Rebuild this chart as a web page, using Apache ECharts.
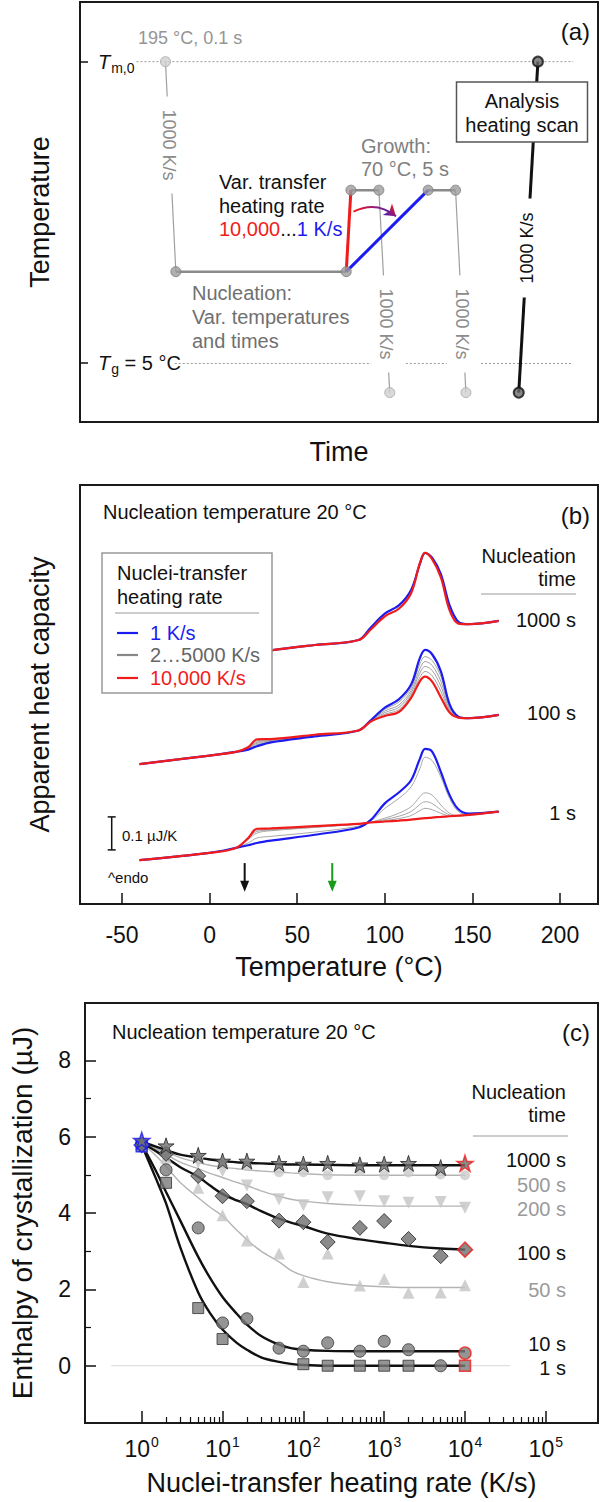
<!DOCTYPE html>
<html>
<head>
<meta charset="utf-8">
<title>Nuclei transfer experiment</title>
<script src="https://cdn.jsdelivr.net/npm/echarts@6/dist/echarts.min.js"></script>
<style>
  html, body { margin: 0; padding: 0; background: #fff; }
  #main { width: 602px; height: 1502px; }
</style>
</head>
<body>
<div id="main"></div>
<script>
// ---------- panel (a): schematic temperature program (arbitrary time / temperature units) ----------
var levelMelt = 85.8, levelGrowth = 55.2, levelNuc = 35.8, levelGlass = 14.0, levelLow = 7.0;
var meltCooling = [[16.5, levelMelt], [18.5, levelNuc]];
var nucleationHold = [[18.5, levelNuc], [51.4, levelNuc]];
var fastTransfer = [[51.4, levelNuc], [52.3, levelGrowth]];
var slowTransfer = [[51.4, levelNuc], [67.2, levelGrowth]];
var growthFast = [[52.3, levelGrowth], [57.7, levelGrowth]];
var growthSlow = [[67.2, levelGrowth], [72.5, levelGrowth]];
var quenchFast = [[57.7, levelGrowth], [59.8, levelLow]];
var quenchSlow = [[72.5, levelGrowth], [74.5, levelLow]];
var analysisScan = [[84.7, levelLow], [88.4, levelMelt]];
var meltRefLine = [[10.9, levelMelt], [95.2, levelMelt]];
var glassRefSegments = [[[18.3, levelGlass], [56.2, levelGlass]], [[62.9, levelGlass], [70.8, levelGlass]], [[77.4, levelGlass], [95.2, levelGlass]]];
var lightPoints = [[16.5, levelMelt], [59.8, levelLow], [74.5, levelLow]];
var grayPoints = [[18.5, levelNuc], [51.4, levelNuc], [52.3, levelGrowth], [57.7, levelGrowth], [67.2, levelGrowth], [72.5, levelGrowth]];
var darkPoints = [[84.7, levelLow], [88.4, levelMelt]];
var rateArrow = [[52.8, 50.1], [61.0, 49.0]];
var levelTicks = [levelMelt, levelGlass];

// ---------- panel (b): heating scans, °C vs apparent heat capacity (µJ/K, curves offset) ----------
var tempC = [-40, 0, 15, 22, 27, 35, 60, 85, 92, 100, 108, 115, 120, 123, 127, 132, 137, 142, 148, 165];
var cp1000Blue = [0.715, 0.74, 0.75, 0.755, 0.762, 0.769, 0.785, 0.80, 0.838, 0.88, 0.905, 0.952, 1.03, 1.064, 1.05, 1.0, 0.905, 0.855, 0.848, 0.858];
var cp1000Red = [0.715, 0.74, 0.75, 0.755, 0.762, 0.769, 0.785, 0.80, 0.832, 0.872, 0.895, 0.942, 1.033, 1.064, 1.045, 0.99, 0.89, 0.85, 0.848, 0.858];
var cp100Blue = [0.424, 0.45, 0.461, 0.468, 0.478, 0.49, 0.508, 0.526, 0.557, 0.595, 0.62, 0.665, 0.745, 0.77, 0.757, 0.705, 0.605, 0.568, 0.563, 0.573];
var cp100Gray = [
  [0.424, 0.45, 0.461, 0.47, 0.483, 0.492, 0.509, 0.526, 0.556, 0.59, 0.612, 0.655, 0.728, 0.75, 0.738, 0.69, 0.6, 0.567, 0.563, 0.573],
  [0.424, 0.45, 0.461, 0.471, 0.487, 0.494, 0.51, 0.526, 0.555, 0.585, 0.603, 0.647, 0.713, 0.735, 0.723, 0.675, 0.595, 0.566, 0.563, 0.573],
  [0.424, 0.45, 0.461, 0.472, 0.49, 0.496, 0.511, 0.526, 0.554, 0.58, 0.596, 0.64, 0.7, 0.72, 0.708, 0.66, 0.59, 0.565, 0.563, 0.573],
  [0.424, 0.45, 0.461, 0.473, 0.494, 0.498, 0.512, 0.526, 0.553, 0.575, 0.589, 0.633, 0.687, 0.705, 0.692, 0.645, 0.585, 0.565, 0.563, 0.573]
];
var cp100Red = [0.424, 0.45, 0.461, 0.475, 0.499, 0.5, 0.513, 0.526, 0.553, 0.57, 0.582, 0.625, 0.675, 0.689, 0.674, 0.626, 0.58, 0.565, 0.563, 0.573];
var cp1Blue = [0.133, 0.155, 0.17, 0.178, 0.185, 0.192, 0.21, 0.232, 0.255, 0.305, 0.338, 0.375, 0.44, 0.47, 0.462, 0.40, 0.33, 0.287, 0.274, 0.28];
var cp1Gray = [
  [0.133, 0.155, 0.17, 0.185, 0.2, 0.205, 0.218, 0.236, 0.252, 0.29, 0.32, 0.355, 0.41, 0.445, 0.435, 0.385, 0.32, 0.28, 0.27, 0.28],
  [0.133, 0.155, 0.17, 0.195, 0.215, 0.222, 0.232, 0.242, 0.248, 0.26, 0.275, 0.295, 0.325, 0.337, 0.33, 0.3, 0.275, 0.267, 0.27, 0.28],
  [0.133, 0.155, 0.17, 0.197, 0.22, 0.224, 0.233, 0.243, 0.248, 0.256, 0.266, 0.28, 0.302, 0.31, 0.305, 0.285, 0.27, 0.267, 0.27, 0.28],
  [0.133, 0.155, 0.17, 0.198, 0.224, 0.226, 0.235, 0.243, 0.247, 0.253, 0.259, 0.268, 0.283, 0.29, 0.286, 0.275, 0.267, 0.267, 0.27, 0.28]
];
var cp1Red = [0.133, 0.155, 0.17, 0.2, 0.228, 0.229, 0.236, 0.243, 0.247, 0.25, 0.253, 0.256, 0.259, 0.26, 0.262, 0.264, 0.266, 0.268, 0.27, 0.28];
var tempTicks = [-50, 0, 50, 100, 150, 200];
var scaleBar = [[-55.9, 0.164], [-55.9, 0.264]];
var arrowNucT = [[20, 0.124], [20, 0.054]];
var arrowGrowthT = [[70, 0.124], [70, 0.054]];

// ---------- panel (c): enthalpy of crystallization (µJ) vs nuclei-transfer heating rate (K/s) ----------
var rates = [1, 2, 5, 10, 20, 50, 100, 200, 500, 1000, 2000, 5000, 10000];
var h1000s = [5.9, 5.76, 5.51, 5.36, 5.36, 5.30, 5.28, 5.30, 5.26, 5.28, 5.30, 5.19, 5.30];
var h500s = [5.82, 5.56, 5.42, 5.30, 5.23, 5.07, 5.07, 4.99, 5.10, 4.99, 5.06, 5.01, 4.99];
var h200s = [5.8, 5.5, 5.32, 5.1, 4.72, 4.36, 4.2, 4.41, 4.44, 4.31, 4.27, 4.29, 4.14];
var h100s = [5.78, 5.55, 4.97, 4.44, 4.31, 3.8, 3.76, 3.24, 3.61, 3.79, 3.32, 2.87, 3.04];
var h50s = [5.75, 5.45, 4.66, 3.94, 3.28, 2.94, 2.19, 2.94, 2.1, 2.27, 1.91, 1.92, 2.11];
var h10s = [5.8, 5.13, 3.61, 1.12, 1.23, 0.46, 0.38, 0.6, 0.38, 0.64, 0.42, 0.0, 0.33];
var h1s = [5.75, 4.79, 1.51, 0.7, '-', '-', 0.04, 0.0, 0.0, 0.0, 0.0, '-', 0.0];
var fitRates = [1, 1.5, 2, 3, 5, 7, 10, 15, 20, 30, 50, 70, 100, 200, 500, 1000, 2000, 5000, 10000];
var fit1000s = [5.86, 5.74, 5.65, 5.53, 5.45, 5.40, 5.36, 5.33, 5.31, 5.30, 5.28, 5.27, 5.27, 5.26, 5.25, 5.25, 5.25, 5.25, 5.25];
var fit500s = [5.84, 5.7, 5.6, 5.45, 5.32, 5.25, 5.2, 5.16, 5.13, 5.1, 5.07, 5.05, 5.03, 5.0, 4.99, 4.99, 4.99, 4.99, 4.99];
var fit200s = [5.84, 5.68, 5.54, 5.33, 5.16, 5.04, 4.93, 4.8, 4.72, 4.58, 4.44, 4.36, 4.31, 4.25, 4.2, 4.18, 4.18, 4.18, 4.18];
var fit100s = [5.84, 5.62, 5.45, 5.2, 4.95, 4.72, 4.5, 4.33, 4.23, 4.05, 3.85, 3.75, 3.66, 3.46, 3.31, 3.22, 3.14, 3.07, 3.04];
var fit50s = [5.84, 5.5, 5.22, 4.8, 4.4, 4.15, 3.92, 3.55, 3.3, 3.0, 2.72, 2.5, 2.36, 2.2, 2.1, 2.07, 2.05, 2.05, 2.05];
var fit10s = [5.8, 5.1, 4.55, 3.8, 2.85, 2.3, 1.8, 1.36, 1.08, 0.78, 0.55, 0.46, 0.42, 0.39, 0.38, 0.38, 0.38, 0.38, 0.38];
var fit1s = [5.78, 4.9, 4.25, 3.1, 1.92, 1.38, 0.95, 0.6, 0.42, 0.22, 0.1, 0.05, 0.02, 0.0, 0.0, 0.0, 0.0, 0.0, 0.0];
var zeroLine = [[0.42, 0], [36000, 0]];
var decadeTicks = [1, 10, 100, 1000, 10000, 100000];
var minorRateTicks = [2, 3, 4, 5, 6, 7, 8, 9, 20, 30, 40, 50, 60, 70, 80, 90, 200, 300, 400, 500, 600, 700, 800, 900,
  2000, 3000, 4000, 5000, 6000, 7000, 8000, 9000, 20000, 30000, 40000, 50000, 60000, 70000, 80000, 90000];
var enthalpyTicks = [0, 2, 4, 6, 8];
var enthalpyMinor = [1, 3, 5, 7];

var FONT = '"Liberation Sans", Arial, sans-serif';
var BLUE = '#1c1cf0', RED = '#f01c1c', GREEN = '#1c9a1c';

function zip(xs, ys) {
  var out = [];
  for (var i = 0; i < xs.length; i++) {
    if (ys[i] !== '-') out.push([xs[i], ys[i]]);
  }
  return out;
}

function seg(data, color, width, xi, extra) {
  var s = {
    type: 'line', xAxisIndex: xi, yAxisIndex: xi, data: data, symbol: 'none', silent: true,
    lineStyle: { color: color, width: width }, z: 3
  };
  for (var k in extra || {}) s[k] = extra[k];
  return s;
}

function dots(data, fill, border, bw, size) {
  return {
    type: 'scatter', xAxisIndex: 0, yAxisIndex: 0, data: data, symbol: 'circle', symbolSize: size, z: 5,
    itemStyle: { color: fill, borderColor: border, borderWidth: bw }
  };
}

function curve(ys, color, width, z) {
  return {
    type: 'line', xAxisIndex: 1, yAxisIndex: 1, data: zip(tempC, ys), symbol: 'none',
    smooth: 0.35, lineStyle: { color: color, width: width }, z: z
  };
}

function fitLine(ys, color, width) {
  return {
    type: 'line', xAxisIndex: 2, yAxisIndex: 2, data: zip(fitRates, ys), symbol: 'none',
    smooth: 0.35, lineStyle: { color: color, width: width }, z: 3
  };
}

// edge: true puts a blue outline on the 1 K/s point and a red one on the 10,000 K/s point
function markers(ys, symbol, size, fill, border, rot, edge) {
  var pts = [];
  for (var i = 0; i < rates.length; i++) {
    if (ys[i] === '-') continue;
    var item = { value: [rates[i], ys[i]] };
    if (edge && i === 0) item.itemStyle = { borderColor: BLUE, borderWidth: 1.5 };
    if (edge && i === rates.length - 1) item.itemStyle = { borderColor: RED, borderWidth: 1.5 };
    pts.push(item);
  }
  return {
    type: 'scatter', xAxisIndex: 2, yAxisIndex: 2, data: pts, symbol: symbol, symbolSize: size,
    symbolRotate: rot || 0, z: 6,
    itemStyle: { color: fill, borderColor: border, borderWidth: border === 'none' ? 0 : 1 }
  };
}

function arrow(data, color) {
  return {
    type: 'line', xAxisIndex: 1, yAxisIndex: 1, showAllSymbol: true, z: 4,
    data: [{ value: data[0], symbol: 'none' }, { value: data[1], symbol: 'triangle', symbolSize: [9, 11], symbolRotate: 180 }],
    lineStyle: { color: color, width: 2 }, itemStyle: { color: color }
  };
}

function txt(x, y, text, o) {
  o = o || {};
  var st = {
    text: text, fill: o.color || '#111', font: (o.weight || 'normal') + ' ' + (o.size || 20) + 'px ' + FONT,
    align: o.align || 'left', textAlign: o.align || 'left', verticalAlign: 'middle', textVerticalAlign: 'middle'
  };
  if (o.bg) { st.backgroundColor = o.bg; st.padding = o.pad; }
  if (o.rich) st.rich = o.rich;
  return { type: 'text', x: x, y: y, rotation: o.rot || 0, z: 100, style: st };
}

function hline(x1, x2, y, color, w) {
  return { type: 'line', z: 100, shape: { x1: x1, y1: y, x2: x2, y2: y }, style: { stroke: color, lineWidth: w || 1 } };
}

var axisName = { fontSize: 27, color: '#111', fontFamily: FONT };
var tickFont = { fontSize: 23, color: '#111', fontFamily: FONT };
var frame = { show: true, borderColor: '#1a1a1a', borderWidth: 2, backgroundColor: '#fff' };
var noLine = { show: false, onZero: false };

var chart = echarts.init(document.getElementById('main'), null, { renderer: 'svg' });

var option = {
  animation: false,
  backgroundColor: '#fff',
  textStyle: { fontFamily: FONT },
  grid: [
    Object.assign({ left: 80, right: 4, top: 2, height: 420 }, frame),
    Object.assign({ left: 80, right: 4, top: 485, height: 419 }, frame),
    Object.assign({ left: 80, right: 4, top: 1003, height: 420 }, frame)
  ],
  xAxis: [
    { gridIndex: 0, type: 'value', min: 0, max: 100, axisLine: noLine, axisTick: { show: false },
      axisLabel: { show: false }, splitLine: { show: false },
      name: 'Time', nameLocation: 'middle', nameGap: 16, nameTextStyle: axisName },
    { gridIndex: 1, type: 'value', min: -74, max: 221.7, axisLine: noLine, splitLine: { show: false },
      axisTick: { inside: true, length: 11, customValues: tempTicks, lineStyle: { color: '#111', width: 1.5 } },
      axisLabel: Object.assign({ customValues: tempTicks, margin: 19 }, tickFont),
      name: 'Temperature (°C)', nameLocation: 'middle', nameGap: 49, nameTextStyle: axisName },
    { gridIndex: 2, type: 'log', position: 'bottom', min: 0.1986, max: 442500, axisLine: noLine, splitLine: { show: false },
      axisTick: { inside: true, length: 12, customValues: decadeTicks, lineStyle: { color: '#111', width: 1.5 } },
      axisLabel: {
        customValues: decadeTicks, margin: 12, color: '#111',
        formatter: function (v) { return '{b|10}{s|' + Math.round(Math.log10(v)) + '}'; },
        rich: { b: { fontSize: 23, fontFamily: FONT, color: '#111' },
                s: { fontSize: 14, fontFamily: FONT, color: '#111', padding: [0, 0, 14, 1] } }
      },
      name: 'Nuclei-transfer heating rate (K/s)', nameLocation: 'middle', nameGap: 46, nameTextStyle: axisName },
    { gridIndex: 2, type: 'log', position: 'bottom', min: 0.1986, max: 442500, axisLine: noLine, splitLine: { show: false },
      axisTick: { inside: true, length: 6, customValues: minorRateTicks, lineStyle: { color: '#111', width: 1.2 } },
      axisLabel: { show: false } }
  ],
  yAxis: [
    { gridIndex: 0, type: 'value', min: 0, max: 100, axisLine: noLine, splitLine: { show: false },
      axisTick: { inside: true, length: 8, customValues: levelTicks, lineStyle: { color: '#111', width: 1.5 } },
      axisLabel: {
        inside: true, margin: 18, customValues: levelTicks, color: '#111',
        formatter: function (v) { return v > 50 ? '{i|T}{s|m,0}' : '{i|T}{s|g}{n| = 5 °C}'; },
        rich: { i: { fontSize: 20, fontStyle: 'italic', fontFamily: FONT, color: '#111' },
                s: { fontSize: 14, fontFamily: FONT, color: '#111', padding: [12, 0, 0, 1] },
                n: { fontSize: 20, fontFamily: FONT, color: '#111' } }
      },
      name: 'Temperature', nameLocation: 'middle', nameGap: 27, nameRotate: 90, nameTextStyle: axisName },
    { gridIndex: 1, type: 'value', min: 0, max: 1.27, axisLine: noLine, axisTick: { show: false },
      axisLabel: { show: false }, splitLine: { show: false },
      name: 'Apparent heat capacity', nameLocation: 'middle', nameGap: 27, nameRotate: 90, nameTextStyle: axisName },
    { gridIndex: 2, type: 'value', position: 'left', min: -1.5, max: 9.5, axisLine: noLine, splitLine: { show: false },
      axisTick: { inside: true, length: 11, customValues: enthalpyTicks, lineStyle: { color: '#111', width: 1.5 } },
      axisLabel: Object.assign({ customValues: enthalpyTicks, margin: 14 }, tickFont),
      name: 'Enthalpy of crystallization (µJ)', nameLocation: 'middle', nameGap: 49, nameRotate: 90,
      nameTextStyle: { fontSize: 28, color: '#111', fontFamily: FONT } },
    { gridIndex: 2, type: 'value', position: 'left', min: -1.5, max: 9.5, axisLine: noLine, splitLine: { show: false },
      axisTick: { inside: true, length: 6, customValues: enthalpyMinor, lineStyle: { color: '#111', width: 1.2 } },
      axisLabel: { show: false } }
  ],
  series: [],
  graphic: []
};

var S = option.series;
// (a) schematic
S.push(seg(meltRefLine, '#999', 1, 0, { lineStyle: { color: '#999', width: 1, type: [2, 2] } }));
S.push({ type: 'lines', coordinateSystem: 'cartesian2d', xAxisIndex: 0, yAxisIndex: 0, silent: true, z: 2,
  data: glassRefSegments.map(function (c) { return { coords: c }; }),
  lineStyle: { color: '#999', width: 1, type: [2, 2], opacity: 1 } });
S.push(seg(meltCooling, '#a0a0a0', 1.2, 0));
S.push(seg(nucleationHold, '#8a8a8a', 2.5, 0));
S.push(seg(growthFast, '#8a8a8a', 2.5, 0));
S.push(seg(growthSlow, '#8a8a8a', 2.5, 0));
S.push(seg(quenchFast, '#a0a0a0', 1.2, 0));
S.push(seg(quenchSlow, '#a0a0a0', 1.2, 0));
S.push(seg(fastTransfer, RED, 3, 0, { z: 4 }));
S.push(seg(slowTransfer, BLUE, 3, 0, { z: 4 }));
S.push(seg(analysisScan, '#111', 3, 0));
S.push(dots(lightPoints, '#cfcfcf', '#a8a8a8', 1, 10));
S.push(dots(grayPoints, '#9c9c9c', '#7a7a7a', 1, 10));
S.push(dots(darkPoints, '#6a6a6a', '#111', 2, 10));
S.push({ type: 'lines', coordinateSystem: 'cartesian2d', xAxisIndex: 0, yAxisIndex: 0, silent: true, z: 6,
  symbol: ['none', 'arrow'], symbolSize: 11,
  data: [{ coords: rateArrow }],
  lineStyle: { width: 2, curveness: 0.32, opacity: 1,
    color: new echarts.graphic.LinearGradient(0, 0, 1, 0, [{ offset: 0, color: '#f01c1c' }, { offset: 1, color: '#3a1cc8' }]) } });

// (b) heating scans
cp1Gray.forEach(function (g) { S.push(curve(g, '#a8a8a8', 1, 3)); });
cp100Gray.forEach(function (g) { S.push(curve(g, '#a0a0a0', 1, 3)); });
S.push(curve(cp1Blue, BLUE, 2.2, 4));
S.push(curve(cp100Blue, BLUE, 2.2, 4));
S.push(curve(cp1000Blue, BLUE, 2.2, 4));
S.push(curve(cp1Red, RED, 2.2, 5));
S.push(curve(cp100Red, RED, 2.2, 5));
S.push(curve(cp1000Red, RED, 2.2, 5));
S.push({ type: 'line', xAxisIndex: 1, yAxisIndex: 1, data: scaleBar, z: 4, symbol: 'rect', symbolSize: [8, 1.5],
  showAllSymbol: true, lineStyle: { color: '#111', width: 1.5 }, itemStyle: { color: '#111' } });
S.push(arrow(arrowNucT, '#111'));
S.push(arrow(arrowGrowthT, GREEN));

// (c) enthalpy vs transfer rate
S.push({ type: 'line', xAxisIndex: 2, yAxisIndex: 2, data: zeroLine, symbol: 'none', z: 2,
  lineStyle: { color: '#d8d8d8', width: 1 } });
S.push(fitLine(fit500s, '#b4b4b4', 1.4));
S.push(fitLine(fit200s, '#b4b4b4', 1.4));
S.push(fitLine(fit50s, '#b4b4b4', 1.4));
S.push(fitLine(fit1000s, '#111', 2.4));
S.push(fitLine(fit100s, '#111', 2.4));
S.push(fitLine(fit10s, '#111', 2.4));
S.push(fitLine(fit1s, '#111', 2.4));
S.push(markers(h500s, 'circle', 10, '#cbcbcb', 'none'));
S.push(markers(h200s, 'triangle', 12, '#c4c4c4', 'none', 180));
S.push(markers(h50s, 'triangle', 12, '#c4c4c4', 'none'));
S.push(markers(h1s, 'rect', 11, '#7a7a7a', '#333', 0, true));
S.push(markers(h10s, 'circle', 12, '#7a7a7a', '#333', 0, true));
S.push(markers(h100s, 'diamond', 15, '#6e6e6e', '#222', 0, true));
S.push(markers(h1000s, 'path://M50,0 L61.8,35.1 L98.9,35.1 L68.9,56.8 L80.4,91.9 L50,70.2 L19.6,91.9 L31.1,56.8 L1.1,35.1 L38.2,35.1 Z', 16, '#6e6e6e', '#222', 0, true));

// annotations
var G = option.graphic;
// (a)
G.push(txt(138, 37.7, '195 °C, 0.1 s', { color: '#959595', size: 18 }));
G.push(txt(590, 31, '(a)', { size: 24, align: 'right' }));
G.push(txt(169, 145, '1000 K/s', { color: '#8c8c8c', size: 18, align: 'center', rot: -Math.PI / 2, bg: '#fff', pad: [0, 13] }));
G.push(txt(385.5, 324, '1000 K/s', { color: '#8c8c8c', size: 18, align: 'center', rot: -Math.PI / 2, bg: '#fff', pad: [0, 13] }));
G.push(txt(462, 324, '1000 K/s', { color: '#8c8c8c', size: 18, align: 'center', rot: -Math.PI / 2, bg: '#fff', pad: [0, 13] }));
G.push(txt(526.5, 248, '1000 K/s', { size: 18, align: 'center', rot: Math.PI / 2, bg: '#fff', pad: [0, 14] }));
G.push({ type: 'rect', z: 99, shape: { x: 456.5, y: 82, width: 131, height: 60 }, style: { fill: '#fff', stroke: '#555', lineWidth: 1.5 } });
G.push(txt(522, 101, 'Analysis', { size: 20, align: 'center' }));
G.push(txt(522, 125, 'heating scan', { size: 20, align: 'center' }));
G.push(txt(219, 181.7, 'Var. transfer', { size: 20 }));
G.push(txt(219, 205.7, 'heating rate', { size: 20 }));
G.push(txt(219, 229, '{r|10,000}{k|...}{b|1 K/s}', { size: 20, rich: {
  r: { fill: RED, fontSize: 20, fontFamily: FONT }, k: { fill: '#111', fontSize: 20, fontFamily: FONT },
  b: { fill: BLUE, fontSize: 20, fontFamily: FONT } } }));
G.push(txt(361, 145.7, 'Growth:', { color: '#808080', size: 20 }));
G.push(txt(361, 169.3, '70 °C, 5 s', { color: '#808080', size: 20 }));
G.push(txt(192, 293, 'Nucleation:', { color: '#707070', size: 20 }));
G.push(txt(192, 316.7, 'Var. temperatures', { color: '#707070', size: 20 }));
G.push(txt(192, 340.7, 'and times', { color: '#707070', size: 20 }));
// (b)
G.push(txt(103, 512, 'Nucleation temperature 20 °C', { size: 20 }));
G.push(txt(590, 515, '(b)', { size: 24, align: 'right' }));
G.push({ type: 'rect', z: 99, shape: { x: 102, y: 553, width: 170, height: 140 }, style: { fill: '#fff', stroke: '#999', lineWidth: 1.5 } });
G.push(txt(117, 573, 'Nuclei-transfer', { size: 20 }));
G.push(txt(117, 597, 'heating rate', { size: 20 }));
G.push(hline(115, 259, 613, '#999', 1.2));
G.push(hline(117, 138, 633, BLUE, 2.2));
G.push(hline(117, 138, 655, '#888', 2.2));
G.push(hline(117, 138, 678, RED, 2.2));
G.push(txt(150, 633, '1 K/s', { size: 20, color: BLUE }));
G.push(txt(150, 655, '2…5000 K/s', { size: 20, color: '#666' }));
G.push(txt(150, 678, '10,000 K/s', { size: 20, color: RED }));
G.push(txt(576, 556, 'Nucleation', { size: 20, align: 'right' }));
G.push(txt(576, 579, 'time', { size: 20, align: 'right' }));
G.push(hline(481, 576, 594, '#999', 1.2));
G.push(txt(576, 620, '1000 s', { size: 20, align: 'right' }));
G.push(txt(576, 713, '100 s', { size: 20, align: 'right' }));
G.push(txt(576, 813, '1 s', { size: 20, align: 'right' }));
G.push(txt(122, 835, '0.1 µJ/K', { size: 15 }));
G.push(txt(108, 877, '^endo', { size: 15 }));
// (c)
G.push(txt(112, 1032, 'Nucleation temperature 20 °C', { size: 20 }));
G.push(txt(590, 1032, '(c)', { size: 24, align: 'right' }));
G.push(txt(566, 1092, 'Nucleation', { size: 20, align: 'right' }));
G.push(txt(566, 1115, 'time', { size: 20, align: 'right' }));
G.push(hline(473, 568, 1136, '#999', 1.2));
G.push(txt(566, 1160, '1000 s', { size: 20, align: 'right' }));
G.push(txt(566, 1185, '500 s', { size: 20, align: 'right', color: '#9a9a9a' }));
G.push(txt(566, 1209, '200 s', { size: 20, align: 'right', color: '#9a9a9a' }));
G.push(txt(566, 1253, '100 s', { size: 20, align: 'right' }));
G.push(txt(566, 1290, '50 s', { size: 20, align: 'right', color: '#9a9a9a' }));
G.push(txt(566, 1344, '10 s', { size: 20, align: 'right' }));
G.push(txt(566, 1368, '1 s', { size: 20, align: 'right' }));

chart.setOption(option);
window.onresize = function () { chart.resize(); };
</script>
</body>
</html>
